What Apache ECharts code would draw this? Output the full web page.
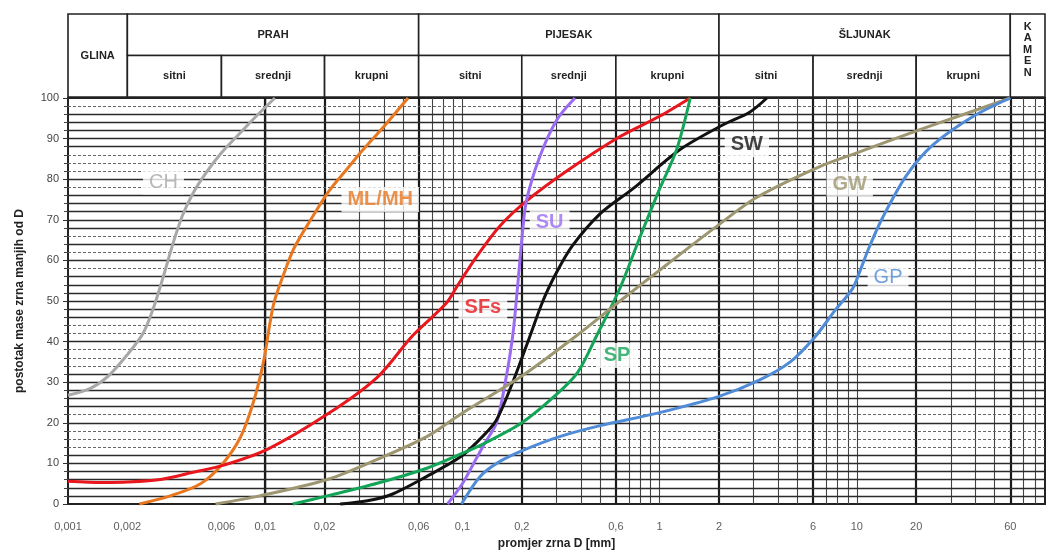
<!DOCTYPE html>
<html>
<head>
<meta charset="utf-8">
<script src="https://cdn.jsdelivr.net/npm/echarts@6/dist/echarts.min.js"></script>
<style>
html,body{margin:0;padding:0;background:#fff;overflow:hidden;}
#c{width:1052px;height:555px;}
</style>
</head>
<body>
<div id="c"></div>
<script>
// ---- axis / tick data ----
const tickVals = [0.001, 0.002, 0.006, 0.01, 0.02, 0.06, 0.1, 0.2, 0.6, 1, 2, 6, 10, 20, 60];
const tickLabels = ['0,001', '0,002', '0,006', '0,01', '0,02', '0,06', '0,1', '0,2', '0,6', '1', '2', '6', '10', '20', '60'];
const thickV = [0.002, 0.006, 0.02, 0.06, 0.2, 0.6, 2, 6, 20, 60];
const thinV = [0.003, 0.004, 0.005, 0.007, 0.008, 0.009, 0.01, 0.03, 0.04, 0.05, 0.07, 0.08, 0.09, 0.1,
  0.3, 0.4, 0.5, 0.7, 0.8, 0.9, 1, 3, 4, 5, 7, 8, 9, 10, 30, 40, 50, 70, 80];
const solidH = [2, 4, 6, 8, 10, 12, 20, 24, 26, 28, 30, 32, 40, 46, 48, 50, 52, 54, 56, 60, 64, 68, 70, 72, 74, 76, 80, 88, 90, 92, 94, 96];
const dashedH = [98, 86, 84, 82, 78, 66, 62, 58, 44, 42, 38, 36, 34, 22, 18, 16, 14];

// ---- header table ----
const headerLabels = ['GLINA', 'PRAH', 'PIJESAK', 'ŠLJUNAK', 'K\nA\nM\nE\nN',
  'sitni', 'srednji', 'krupni', 'sitni', 'srednji', 'krupni', 'sitni', 'srednji', 'krupni'];
const headerFrom = [0.001, 0.002, 0.06, 2, 60, 0.002, 0.006, 0.02, 0.06, 0.2, 0.6, 2, 6, 20];
const headerTo   = [0.002, 0.06, 2, 60, 90, 0.006, 0.02, 0.06, 0.2, 0.6, 2, 6, 20, 60];
const headerRowLo = [0, 1, 1, 1, 0, 0, 0, 0, 0, 0, 0, 0, 0, 0];
const headerRowHi = [2, 2, 2, 2, 2, 1, 1, 1, 1, 1, 1, 1, 1, 1];

// ---- curves: D [mm] and percent passing ----
const chD = [0.001, 0.0013, 0.0016, 0.002, 0.0024, 0.0027, 0.003, 0.0034, 0.0038, 0.0043, 0.005, 0.006, 0.0075, 0.009, 0.0112];
const chP = [26.8, 28.5, 31.5, 36.8, 42, 48, 55, 64, 71, 76.5, 81.5, 86.5, 91.5, 95.5, 100];

const mlD = [0.0023, 0.0033, 0.0047, 0.0061, 0.0075, 0.0087, 0.0098, 0.011, 0.0125, 0.014, 0.017, 0.021, 0.026, 0.031, 0.04, 0.053];
const mlP = [0, 2, 5, 10, 16.5, 25, 35, 49, 57, 63, 70, 77, 82.5, 87, 93, 100];

const sfD = [0.001, 0.0015, 0.002, 0.003, 0.0043, 0.0061, 0.0102, 0.0208, 0.037, 0.056, 0.083, 0.095, 0.119, 0.155, 0.211, 0.338, 0.63, 1.0, 1.43];
const sfP = [5.6, 5.3, 5.4, 6.1, 7.8, 9.5, 13.4, 22.2, 31.2, 41.5, 49.5, 54, 61.2, 68.5, 74.6, 82, 90.5, 95.5, 100];

const suD = [0.084, 0.1, 0.114, 0.13, 0.149, 0.165, 0.18, 0.19, 0.2, 0.211, 0.247, 0.301, 0.372];
const suP = [0, 5, 10, 15, 20, 30, 41.5, 53, 65, 74.6, 85.6, 94.6, 100];

const swD = [0.024, 0.033, 0.044, 0.066, 0.097, 0.12, 0.148, 0.18, 0.215, 0.256, 0.3, 0.36, 0.5, 0.73, 1.27, 2.1, 2.86, 3.5];
const swP = [0, 0.8, 2.4, 6.8, 11.5, 15.5, 20.5, 30, 40, 50, 57, 63.5, 71.5, 77.6, 87.3, 93.4, 96.5, 100];

const spD = [0.0138, 0.0206, 0.037, 0.066, 0.097, 0.13, 0.2, 0.3, 0.385, 0.48, 0.63, 0.79, 1.0, 1.22, 1.43];
const spP = [0, 2, 5.1, 8.8, 12.2, 15, 20, 27, 32.5, 41.5, 53.2, 65.4, 77.6, 87.3, 100];

const gwD = [0.0056, 0.0094, 0.0208, 0.037, 0.066, 0.097, 0.2, 0.38, 0.63, 1.09, 1.9, 3.1, 6.4, 10, 20.9, 35, 60];
const gwP = [0, 2, 6.1, 11, 16.6, 22, 31.5, 41.5, 50, 59, 68, 75.5, 83, 86.5, 92.2, 96, 100];

const gpD = [0.099, 0.123, 0.155, 0.207, 0.311, 0.5, 1.0, 2.0, 3.2, 4.6, 6.1, 7.7, 9.5, 10.3, 11.5, 13.5, 17.9, 24.4, 39, 60];
const gpP = [0, 6.8, 10.5, 13.4, 16.6, 19.3, 22.5, 26.5, 30.5, 35, 41, 47.5, 53, 57, 63, 70.5, 81, 88.5, 95.5, 100];

// ---- curve labels: name, anchor D, anchor percent ----
const curveNames = ['CH', 'ML/MH', 'SFs', 'SU', 'SW', 'SP', 'GW', 'GP'];
const labelD = [0.00305, 0.0383, 0.127, 0.277, 2.77, 0.608, 9.2, 14.4];
const labelP = [79.3, 75, 48.5, 69.3, 88.5, 36.6, 78.8, 55.9];

// ---- styles ----
const FONT = 'Liberation Sans, Arial, Helvetica, sans-serif';
const curveColors = ['#a8a8a8', '#e8771f', '#e8161d', '#9b6cf2', '#111111', '#14a457', '#9d9670', '#4f8bd6'];
const labelWeights = ['normal', 'bold', 'bold', 'bold', 'bold', 'bold', 'bold', 'normal'];
const curveSets = [[chD, chP], [mlD, mlP], [sfD, sfP], [suD, suP], [swD, swP], [spD, spP], [gwD, gwP], [gpD, gpP]];

const zip = (a, b) => a.map((v, i) => [v, b[i]]);

const gridLineData = []
  .concat(thinV.map(v => ({ xAxis: v, lineStyle: { color: '#444', width: 1.1, type: 'solid' } })))
  .concat(thickV.map(v => ({ xAxis: v, lineStyle: { color: '#1a1a1a', width: 2.2, type: 'solid' } })))
  .concat(solidH.map(v => ({ yAxis: v, lineStyle: { color: '#2a2a2a', width: 1.4, type: 'solid' } })))
  .concat(dashedH.map(v => ({ yAxis: v, lineStyle: { color: '#666', width: 1.2, type: [3, 2] } })));

const series = [];
// grid lines
series.push({
  type: 'line', xAxisIndex: 0, yAxisIndex: 0, data: [[0.001, 0]], showSymbol: false,
  lineStyle: { opacity: 0 }, silent: true, z: 1,
  markLine: { silent: true, symbol: ['none', 'none'], label: { show: false }, animation: false, data: gridLineData }
});
// curves
curveSets.forEach((s, i) => {
  series.push({
    name: curveNames[i], type: 'line', xAxisIndex: 0, yAxisIndex: 0,
    data: zip(s[0], s[1]), smooth: 0.3, showSymbol: false,
    lineStyle: { color: curveColors[i], width: 3 }, z: 5, clip: false
  });
});
// curve labels
series.push({
  type: 'scatter', xAxisIndex: 0, yAxisIndex: 0, symbolSize: 0, z: 8, silent: true,
  data: labelD.map((d, i) => ({
    value: [d, labelP[i]],
    label: { color: curveColors[i], fontWeight: labelWeights[i] }
  })),
  label: {
    show: true, position: 'inside', fontSize: 20, fontFamily: FONT,
    backgroundColor: '#fff', padding: [3, 6, 2, 6],
    formatter: p => curveNames[p.dataIndex]
  }
});
// x tick labels
series.push({
  type: 'scatter', xAxisIndex: 0, yAxisIndex: 0, symbolSize: 0, z: 8, silent: true,
  data: tickVals.map(v => [v, 0]),
  label: {
    show: true, position: 'bottom', distance: 17, fontSize: 11, color: '#333', fontFamily: FONT,
    formatter: p => tickLabels[p.dataIndex]
  }
});
// header table
series.push({
  type: 'custom', xAxisIndex: 1, yAxisIndex: 1, silent: true, z: 3,
  data: headerFrom.map((f, i) => [f, headerTo[i], headerRowLo[i], headerRowHi[i]]),
  encode: { x: [0, 1], y: [2, 3] },
  renderItem: function (params, api) {
    const p0 = api.coord([api.value(0), api.value(3)]);
    const p1 = api.coord([api.value(1), api.value(2)]);
    const idx = params.dataIndex;
    const isKamen = idx === 4;
    return {
      type: 'group',
      children: [
        { type: 'rect', shape: { x: p0[0], y: p0[1], width: p1[0] - p0[0], height: p1[1] - p0[1] },
          style: { fill: '#fff', stroke: '#222', lineWidth: 1.6 } },
        { type: 'text',
          style: { text: headerLabels[idx], x: (p0[0] + p1[0]) / 2, y: (p0[1] + p1[1]) / 2 - (isKamen ? 6 : 0),
            align: 'center', verticalAlign: 'middle', fill: '#222',
            fontSize: 11, fontWeight: 'bold', fontFamily: FONT,
            lineHeight: isKamen ? 11.5 : 13 } }
      ]
    };
  }
});

const option = {
  backgroundColor: '#fff',
  animation: false,
  grid: [
    { left: 68, right: 7, top: 98, height: 410, show: true, borderColor: '#222', borderWidth: 2, backgroundColor: '#fff' },
    { left: 68, right: 7, top: 14, height: 83 }
  ],
  xAxis: [
    { type: 'log', logBase: 10, min: 0.001, max: 90, gridIndex: 0,
      axisLabel: { show: false }, axisTick: { show: false }, splitLine: { show: false },
      axisLine: { show: true, lineStyle: { color: '#222', width: 2 } },
      name: 'promjer zrna D [mm]', nameLocation: 'middle', nameGap: 34,
      nameTextStyle: { fontFamily: FONT, fontSize: 12, fontWeight: 'bold', color: '#222' } },
    { type: 'log', logBase: 10, min: 0.001, max: 90, gridIndex: 1, show: false }
  ],
  yAxis: [
    { type: 'value', min: 0, max: 100, interval: 10, gridIndex: 0,
      axisLine: { show: true, lineStyle: { color: '#222', width: 2 } },
      axisTick: { show: true, length: 5, lineStyle: { color: '#333' } },
      minorTick: { show: true, splitNumber: 5, length: 4, lineStyle: { color: '#444' } },
      splitLine: { show: false },
      axisLabel: { fontFamily: FONT, fontSize: 11, color: '#444', margin: 9 },
      name: 'postotak mase zrna manjih od D', nameLocation: 'middle', nameGap: 42, nameRotate: 90,
      nameTextStyle: { fontFamily: FONT, fontSize: 12, fontWeight: 'bold', color: '#222' } },
    { type: 'value', min: 0, max: 2, gridIndex: 1, show: false }
  ],
  series: series
};

const chart = echarts.init(document.getElementById('c'), null, { renderer: 'canvas' });
chart.setOption(option);
</script>
</body>
</html>
